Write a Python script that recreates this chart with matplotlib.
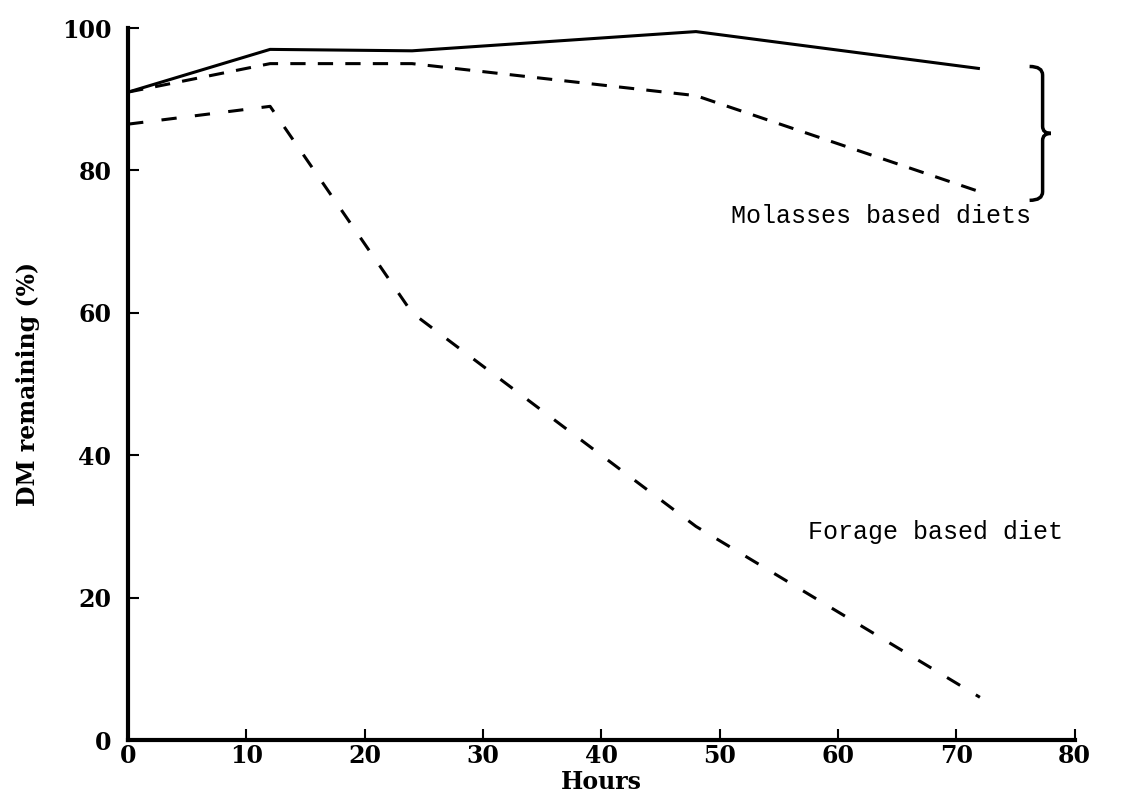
import matplotlib
matplotlib.use('Agg')
import matplotlib.pyplot as plt
from matplotlib.path import Path
from matplotlib.patches import PathPatch

# sampling times (h) and DM remaining (%)
hours = [0, 12, 24, 48, 72]
molasses_a = [91, 97, 96.8, 99.5, 94.3]
molasses_b = [91, 95, 95, 90.5, 77]
forage = [86.5, 89, 60, 30, 6]

xticks = [0, 10, 20, 30, 40, 50, 60, 70, 80]
yticks = [0, 20, 40, 60, 80, 100]

fig = plt.figure(figsize=(11.24, 8.10), dpi=100)
ax = fig.add_axes([0.114, 0.0864, 0.842, 0.879])

ax.plot(hours, molasses_a, color='black', lw=2.2, solid_capstyle='butt')
ax.plot(hours, molasses_b, color='black', lw=2.2, linestyle=(0, (5, 4)))
ax.plot(hours, forage, color='black', lw=2.2, linestyle=(0, (5, 6)))

ax.set_xlim(0, 80)
ax.set_ylim(0, 100)
ax.set_xticks(xticks)
ax.set_yticks(yticks)

tick_font = dict(family='DejaVu Serif', weight='bold', size=17)
ax.set_xticklabels([str(t) for t in xticks], **tick_font)
ax.set_yticklabels([str(t) for t in yticks], **tick_font)
ax.tick_params(direction='in', length=8, width=1.5)
ax.tick_params(axis='y', pad=12)
ax.tick_params(axis='x', pad=3)

for side in ['top', 'right']:
    ax.spines[side].set_visible(False)
ax.spines['left'].set_linewidth(3)
ax.spines['bottom'].set_linewidth(3)

ax.set_xlabel('Hours', family='DejaVu Serif', weight='bold', size=17, labelpad=1)
ax.set_ylabel('DM remaining (%)', family='DejaVu Serif', weight='bold', size=17, labelpad=16)

# brace grouping the two molasses curves
top, bot, xb = 94.6, 75.8, 77.3
mid = 85.2
verts = [(76.2, top), (xb, top), (xb, top - 1.2),
         (xb, mid + 1.0), (xb, mid), (78.0, mid),
         (xb, mid), (xb, mid - 1.0),
         (xb, bot + 1.2), (xb, bot), (76.2, bot)]
codes = [Path.MOVETO, Path.CURVE3, Path.CURVE3,
         Path.LINETO, Path.CURVE3, Path.CURVE3,
         Path.CURVE3, Path.CURVE3,
         Path.LINETO, Path.CURVE3, Path.CURVE3]
ax.add_patch(PathPatch(Path(verts, codes), fill=False, lw=2.5, color='black',
                       clip_on=False))

mono = dict(family='Liberation Mono', size=18)
ax.text(51, 73.6, 'Molasses based diets', ha='left', va='center', **mono)
ax.text(57.5, 29.2, 'Forage based diet', ha='left', va='center', **mono)

fig.savefig('out.png', dpi=100)
